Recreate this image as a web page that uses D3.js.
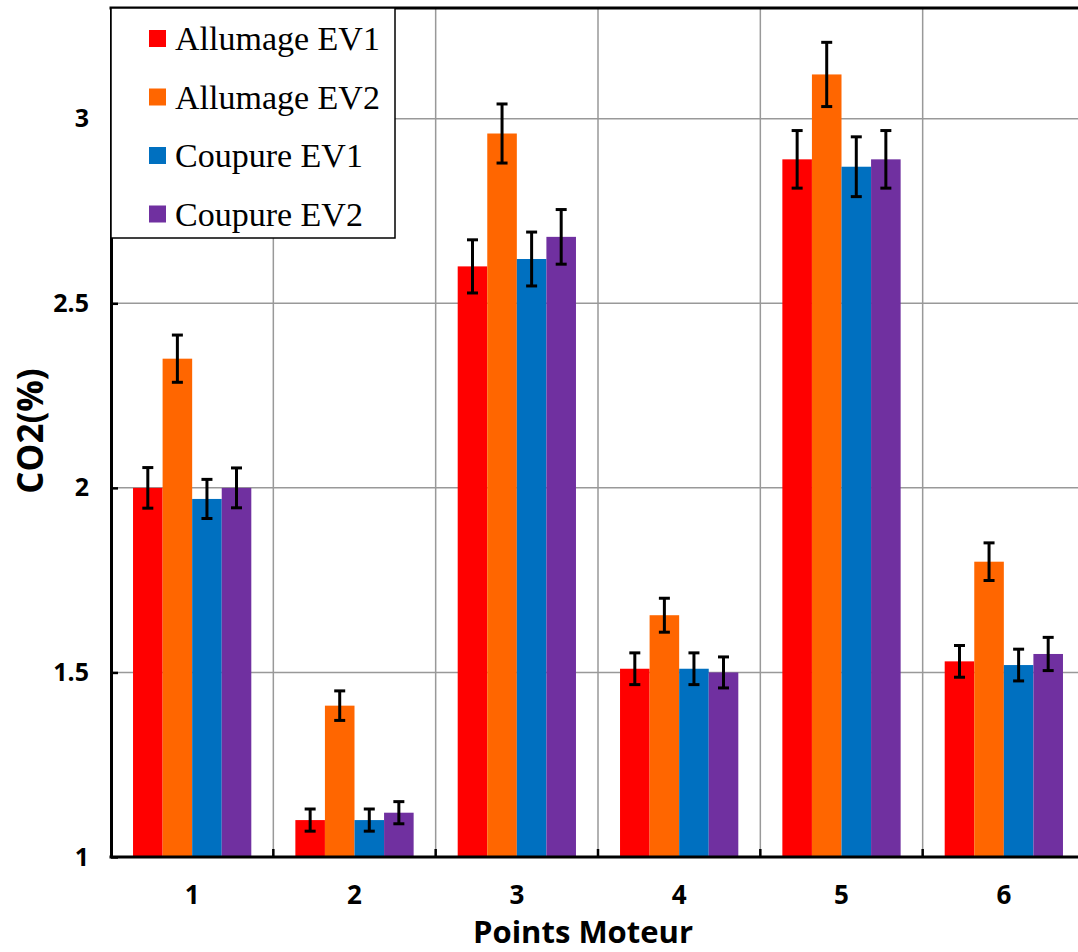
<!DOCTYPE html>
<html><head><meta charset="utf-8">
<script src="https://cdn.jsdelivr.net/npm/d3@7"></script>
<style>body{margin:0;background:#fff}svg{display:block}</style>
</head><body>
<svg id="c" width="1078" height="952"></svg>
<script>
const categories = ["1","2","3","4","5","6"];
const seriesNames = ["Allumage EV1","Allumage EV2","Coupure EV1","Coupure EV2"];
const seriesColors = ["#ff0000","#ff6600","#0070c0","#7030a0"];
const allumageEV1 = [2.00, 1.10, 2.60, 1.51, 2.89, 1.53];
const allumageEV2 = [2.35, 1.41, 2.96, 1.655, 3.12, 1.80];
const coupureEV1  = [1.97, 1.10, 2.62, 1.51, 2.87, 1.52];
const coupureEV2  = [2.00, 1.12, 2.68, 1.50, 2.89, 1.55];
const errEV1a = [0.055, 0.03, 0.072, 0.043, 0.078, 0.043];
const errEV2a = [0.064, 0.04, 0.08, 0.046, 0.087, 0.051];
const errEV1c = [0.053, 0.03, 0.073, 0.043, 0.081, 0.043];
const errEV2c = [0.054, 0.03, 0.074, 0.042, 0.078, 0.045];
const yTicks = [1, 1.5, 2, 2.5, 3];
const yTickLabels = ["1","1.5","2","2.5","3"];
const series = [allumageEV1, allumageEV2, coupureEV1, coupureEV2];
const errors = [errEV1a, errEV2a, errEV1c, errEV2c];

const svg = d3.select("#c");
const L = 111, R = 1085, T = 8, B = 857;
const x = d3.scaleBand().domain(categories).range([L, R]).paddingInner(0).paddingOuter(0);
const inner = d3.scaleBand().domain(d3.range(4)).range([0, x.bandwidth()]).paddingOuter(0.745).paddingInner(0);
const y = d3.scaleLinear().domain([1, 3.3]).range([B, T]);

// gridlines
const g = svg.append("g");
g.selectAll(".hg").data(yTicks.slice(1)).join("line")
  .attr("x1", L).attr("x2", R).attr("y1", d => y(d)).attr("y2", d => y(d))
  .attr("stroke", "#999").attr("stroke-width", 1.5);
g.selectAll(".vg").data(categories.slice(1)).join("line")
  .attr("x1", d => x(d)).attr("x2", d => x(d)).attr("y1", T).attr("y2", B)
  .attr("stroke", "#999").attr("stroke-width", 1.5);

// bars
const data = [];
categories.forEach((c, i) => series.forEach((s, j) => data.push({c, j, v: s[i], e: errors[j][i]})));
svg.append("g").selectAll("rect").data(data).join("rect")
  .attr("x", d => x(d.c) + inner(d.j))
  .attr("width", inner.bandwidth())
  .attr("y", d => y(d.v))
  .attr("height", d => B - y(d.v))
  .attr("fill", d => seriesColors[d.j]);

// error bars
const eb = svg.append("g").attr("stroke", "#000").attr("stroke-width", 3);
data.forEach(d => {
  const cx = x(d.c) + inner(d.j) + inner.bandwidth()/2;
  eb.append("line").attr("x1", cx).attr("x2", cx).attr("y1", y(d.v + d.e)).attr("y2", y(d.v - d.e));
  eb.append("line").attr("x1", cx-5.5).attr("x2", cx+5.5).attr("y1", y(d.v + d.e)).attr("y2", y(d.v + d.e));
  eb.append("line").attr("x1", cx-5.5).attr("x2", cx+5.5).attr("y1", y(d.v - d.e)).attr("y2", y(d.v - d.e));
});

// axes
const yAxis = d3.axisLeft(y).tickValues(yTicks).tickFormat((d,i) => yTickLabels[i]).tickSizeInner(-7).tickSizeOuter(0).tickPadding(22);
const ya = svg.append("g").attr("transform", `translate(${L},0)`).call(yAxis);
ya.select(".domain").attr("stroke", "#000").attr("stroke-width", 3);
ya.selectAll(".tick line").attr("stroke", "#000").attr("stroke-width", 2.5);
ya.selectAll("text").attr("font-family", "Open Sans, sans-serif").attr("font-weight", "bold").attr("font-size", 25).attr("fill", "#000");

const xa = svg.append("g").attr("transform", `translate(0,${B})`)
  .call(d3.axisBottom(x).tickSize(0).tickPadding(29));
xa.select(".domain").remove();
xa.selectAll("text").attr("font-family", "Open Sans, sans-serif").attr("font-weight", "bold").attr("font-size", 26).attr("fill", "#000");
svg.append("g").selectAll("line").data(categories.slice(1)).join("line")
  .attr("x1", d => x(d)).attr("x2", d => x(d)).attr("y1", B).attr("y2", B-8)
  .attr("stroke", "#000").attr("stroke-width", 2.5);
svg.append("line").attr("x1", L-1.5).attr("x2", R).attr("y1", B).attr("y2", B).attr("stroke", "#000").attr("stroke-width", 3);
svg.append("line").attr("x1", L-1.5).attr("x2", R).attr("y1", T).attr("y2", T).attr("stroke", "#000").attr("stroke-width", 3);

// titles
svg.append("text").attr("transform", "translate(43,431) rotate(-90)").attr("text-anchor", "middle")
  .attr("font-family", "Open Sans, sans-serif").attr("font-weight", "bold").attr("font-size", 35).text("CO2(%)");
svg.append("text").attr("x", 583).attr("y", 943).attr("text-anchor", "middle")
  .attr("font-family", "Open Sans, sans-serif").attr("font-weight", "bold").attr("font-size", 31).text("Points Moteur");

// legend
const lg = svg.append("g");
lg.append("rect").attr("x", L).attr("y", T).attr("width", 284).attr("height", 230)
  .attr("fill", "#fff").attr("stroke", "#000").attr("stroke-width", 1.5);
seriesNames.forEach((n, i) => {
  const cy = 38 + i*58.5;
  lg.append("rect").attr("x", 149).attr("y", cy-8).attr("width", 17).attr("height", 17).attr("fill", seriesColors[i]);
  lg.append("text").attr("x", 175).attr("y", cy+12).attr("font-family", "Liberation Serif, serif")
    .attr("font-size", 34).attr("fill", "#000").text(n);
});
</script>
</body></html>
